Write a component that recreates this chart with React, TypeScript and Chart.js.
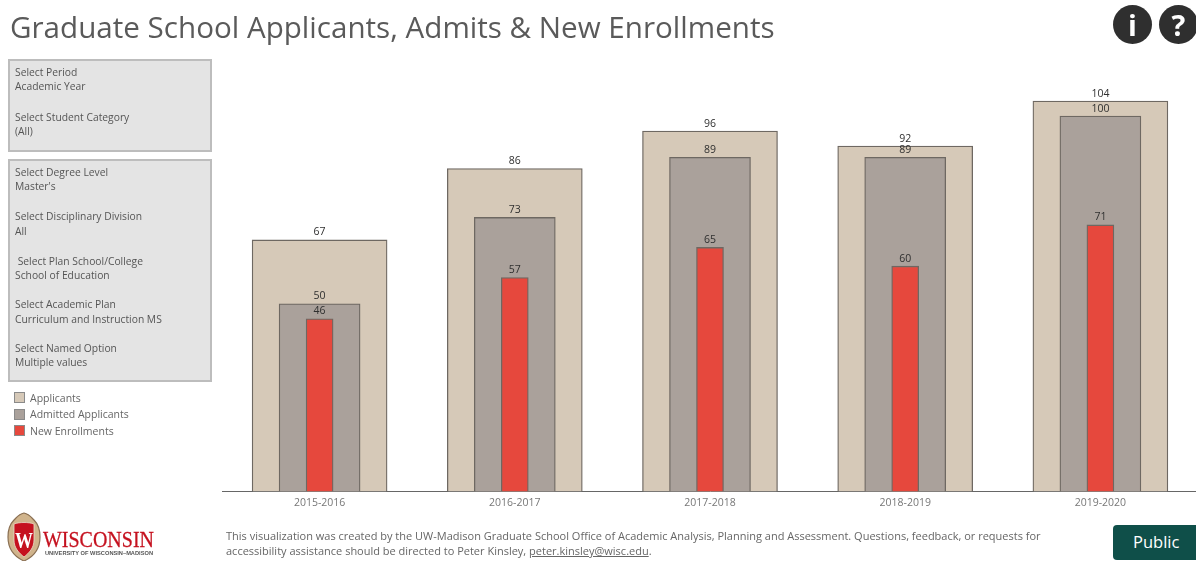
import React, { useEffect, useRef } from "react";
import { Chart, registerables } from "chart.js";

Chart.register(...registerables);

const academicYears = ["2015-2016", "2016-2017", "2017-2018", "2018-2019", "2019-2020"];
const applicants = [67, 86, 96, 92, 104];
const admitted = [50, 73, 89, 89, 100];
const enrollments = [46, 57, 65, 60, 71];

const seriesNames = ["Applicants", "Admitted Applicants", "New Enrollments"];
const seriesColors = ["#d6c9b8", "#aaa19b", "#e6483d"];
const edgeColor = "#6e6862";

const filterGroups = [
  [
    ["Select Period", 72],
    ["Academic Year", 86],
    ["Select Student Category", 117],
    ["(All)", 131],
  ],
  [
    ["Select Degree Level", 172],
    ["Master's", 186],
    ["Select Disciplinary Division", 216],
    ["All", 231],
    ["\u00a0Select Plan School/College", 261],
    ["School of Education", 275],
    ["Select Academic Plan", 304],
    ["Curriculum and Instruction MS", 319],
    ["Select Named Option", 348],
    ["Multiple values", 362],
  ],
] as [string, number][][];

const FONT = '"Open Sans", "Noto Sans", sans-serif';

// Writes each bar's value just above its top edge.
const valueLabels = {
  id: "valueLabels",
  afterDatasetsDraw(chart: Chart) {
    const { ctx } = chart;
    ctx.save();
    ctx.font = `10.5px ${FONT}`;
    ctx.fillStyle = "#2f2f2f";
    ctx.textAlign = "center";
    ctx.textBaseline = "middle";
    chart.data.datasets.forEach((ds, i) => {
      chart.getDatasetMeta(i).data.forEach((bar, j) => {
        ctx.fillText(String(ds.data[j]), bar.x, bar.y - 7.5);
      });
    });
    ctx.restore();
  },
};

function BarsCanvas() {
  const ref = useRef<HTMLCanvasElement>(null);
  useEffect(() => {
    const makeSet = (idx: number, data: number[], thickness: number, order: number) => ({
      label: seriesNames[idx],
      data,
      backgroundColor: seriesColors[idx],
      borderColor: edgeColor,
      borderWidth: 1.3,
      barThickness: thickness,
      order,
    });
    const chart = new Chart(ref.current!, {
      type: "bar",
      data: {
        labels: academicYears,
        datasets: [
          makeSet(0, applicants, 135, 3),
          makeSet(1, admitted, 81, 2),
          makeSet(2, enrollments, 27, 1),
        ],
      },
      options: {
        animation: false,
        responsive: false,
        layout: { padding: { left: 222, right: 0, top: 41, bottom: 47 } },
        plugins: { legend: { display: false }, tooltip: { enabled: false } },
        datasets: { bar: { grouped: false } },
        scales: {
          x: {
            grid: { display: false, drawTicks: false },
            border: { color: "#666666", width: 1 },
            ticks: { color: "#777777", font: { family: FONT, size: 10.5 }, padding: 5, maxRotation: 0 },
          },
          y: { display: false, min: 0, max: 120 },
        },
      },
      plugins: [valueLabels],
    } as any);
    return () => chart.destroy();
  }, []);
  // The canvas runs slightly past the page's right edge, where the frame clips it.
  return (
    <canvas
      ref={ref}
      width={1198}
      height={561}
      style={{ position: "absolute", left: 0, top: 0, width: 1198, height: 561 }}
    />
  );
}

const textAt = (left: number, centerY: number, size: number, color: string): React.CSSProperties => ({
  position: "absolute",
  left,
  top: centerY - 10,
  height: 20,
  lineHeight: "20px",
  fontSize: size,
  color,
  whiteSpace: "nowrap",
});

function Crest() {
  return (
    <svg style={{ position: "absolute", left: 0, top: 505 }} width={165} height={56}>
      <path d="M24 8 C29 9 31 12 34 15 C38 19 40 25 40 32 C40 44 33 52 24 56 C15 52 8 44 8 32 C8 25 10 19 14 15 C17 12 19 9 24 8 Z" fill="#d0b48c" stroke="#8a6f52" strokeWidth={1.2} />
      <path d="M14 19 C19 17 29 17 34 19 L34 35 C34 43 29 48 24 52 C19 48 14 43 14 35 Z" fill="#c5111f" stroke="#e9ddc9" strokeWidth={0.8} />
      <text x={24} y={43} textAnchor="middle" fontFamily="Liberation Serif" fontWeight={700} fontSize={24} fill="#ffffff" textLength={18} lengthAdjust="spacingAndGlyphs">W</text>
      <text x={43} y={42} fontFamily="Liberation Serif" fontSize={24} fill="#c5111f" stroke="#c5111f" strokeWidth={0.3} textLength={111} lengthAdjust="spacingAndGlyphs">WISCONSIN</text>
      <text x={45} y={50} fontFamily="Liberation Sans" fontWeight={700} fontSize={6} fill="#555555" textLength={108} lengthAdjust="spacingAndGlyphs">UNIVERSITY OF WISCONSIN–MADISON</text>
    </svg>
  );
}

function IconButton({ left, glyph }: { left: number; glyph: string }) {
  return (
    <div
      style={{
        position: "absolute", left, top: 5, width: 39, height: 39, borderRadius: "50%",
        background: "#2f2f2f", color: "#ffffff", textAlign: "center",
        lineHeight: "39px", fontSize: 29, fontWeight: 700, fontFamily: FONT,
      }}
    >
      {glyph}
    </div>
  );
}

export default function App() {
  return (
    <div style={{ position: "absolute", left: 0, top: 0, width: 1196, height: 561, overflow: "hidden", background: "#ffffff", fontFamily: FONT }}>
      <BarsCanvas />
      <div style={{ ...textAt(10, 27, 29.6, "#5a5a5a"), height: 40, top: 7, lineHeight: "40px" }}>
        Graduate School Applicants, Admits &amp; New Enrollments
      </div>
      <IconButton left={1113} glyph="i" />
      <IconButton left={1159} glyph="?" />

      {[[59, 93], [159, 223]].map(([top, height]) => (
        <div
          key={top}
          style={{ position: "absolute", left: 8, top, width: 200, height: height - 4, background: "#e4e4e4", border: "2px solid #bdbdbd" }}
        />
      ))}
      {filterGroups.flat().map(([label, y]) => (
        <div key={label} style={textAt(15, y, 10.3, "#555555")}>{label}</div>
      ))}

      {seriesNames.map((name, i) => (
        <React.Fragment key={name}>
          <div
            style={{
              position: "absolute", left: 14, top: 392 + i * 16.6, width: 9, height: 9,
              background: seriesColors[i], border: "1px solid #8a8a8a",
            }}
          />
          <div style={textAt(30, 397.5 + i * 16.6, 10.5, "#666666")}>{name}</div>
        </React.Fragment>
      ))}

      <Crest />

      <div style={textAt(226, 536, 11, "#666666")}>
        This visualization was created by the UW-Madison Graduate School Office of Academic Analysis, Planning and Assessment. Questions, feedback, or requests for
      </div>
      <div style={textAt(226, 551, 11, "#666666")}>
        accessibility assistance should be directed to Peter Kinsley, <span style={{ textDecoration: "underline" }}>peter.kinsley@wisc.edu</span>.
      </div>

      <div
        style={{
          position: "absolute", left: 1113, top: 525, width: 90, height: 35, borderRadius: 4,
          background: "#0f4f49", color: "#ffffff", fontSize: 16.5, lineHeight: "34px", paddingLeft: 20, boxSizing: "border-box",
        }}
      >
        Public
      </div>
    </div>
  );
}
